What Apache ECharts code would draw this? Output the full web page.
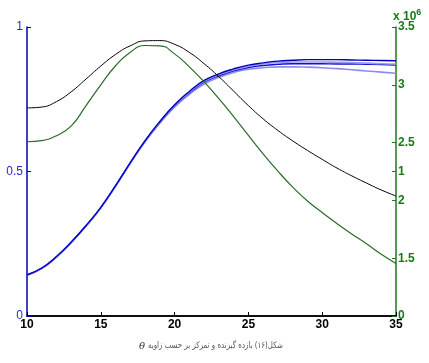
<!DOCTYPE html>
<html><head><meta charset="utf-8">
<script src="https://cdn.jsdelivr.net/npm/echarts@6/dist/echarts.min.js"></script>
<style>html,body{margin:0;padding:0;background:#fff}#c{width:429px;height:363px}</style>
</head><body><div id="c"></div>
<script>
const xVals = [10,11,12,13,14,15,16,17,18,19,20,21,22,23,24,25,26,27,28,29,30,31,32,33,34,35];
const blackVals = [0.72,0.723,0.742,0.776,0.82,0.865,0.905,0.935,0.952,0.953,0.94,0.912,0.873,0.828,0.778,0.728,0.682,0.642,0.606,0.573,0.542,0.512,0.485,0.46,0.436,0.415];
const greenVals = [0.603,0.607,0.624,0.658,0.728,0.80,0.866,0.913,0.936,0.935,0.907,0.862,0.81,0.752,0.69,0.625,0.561,0.501,0.446,0.398,0.358,0.32,0.284,0.25,0.214,0.182];
const blueDark1 = [0.142,0.166,0.206,0.256,0.313,0.376,0.451,0.531,0.607,0.673,0.731,0.777,0.815,0.838,0.855,0.868,0.876,0.882,0.885,0.887,0.887,0.887,0.886,0.885,0.884,0.883];
const blueLight1 = [0.142,0.166,0.205,0.255,0.312,0.375,0.45,0.53,0.606,0.671,0.729,0.774,0.812,0.835,0.852,0.864,0.872,0.877,0.879,0.879,0.879,0.878,0.877,0.875,0.873,0.872];
const blueDark2 = [0.142,0.165,0.205,0.255,0.312,0.375,0.45,0.53,0.605,0.67,0.727,0.772,0.809,0.831,0.848,0.86,0.867,0.871,0.873,0.873,0.873,0.872,0.872,0.871,0.870,0.868];
const blueLight2 = [0.142,0.165,0.204,0.254,0.311,0.374,0.449,0.528,0.603,0.667,0.723,0.767,0.803,0.826,0.843,0.854,0.859,0.862,0.862,0.861,0.859,0.856,0.852,0.848,0.844,0.84];
const xTicks = [10,15,20,25,30,35];
const leftTicks = [0,0.5,1];
const rightTicks = [1.5,2,2.5,3,3.5];
const rightTicks2 = [0,1];
const caption = 'شکل(۱۶) بازده گیرنده و تمرکز بر حسب زاویه';

const pair = arr => xVals.map((x,i)=>[x,arr[i]]);
const green = '#1a7a1a';
function line(data,color,w,z){return {type:'line',data:pair(data),showSymbol:false,smooth:0.5,yAxisIndex:0,lineStyle:{color:color,width:w},z:z,silent:true};}

const chart = echarts.init(document.getElementById('c'),null,{renderer:'canvas'});
chart.setOption({
  animation:false,
  grid:{left:27,top:27,width:369,height:289},
  xAxis:[{type:'value',min:10,max:35,interval:5,position:'bottom',
    axisLine:{lineStyle:{color:'#000',width:1.5}},
    axisTick:{inside:true,length:4,lineStyle:{color:'#000'}},
    axisLabel:{color:'#000',fontWeight:'bold',fontSize:12,fontFamily:'Liberation Sans',margin:3,
      formatter:v=>xTicks.includes(v)?String(v):''},
    splitLine:{show:false}},
    {type:'value',min:10,max:35,position:'top',axisLine:{lineStyle:{color:'#000',width:1.5}},
     axisTick:{show:false},axisLabel:{show:false},splitLine:{show:false}}],
  yAxis:[{type:'value',min:0,max:1,interval:0.5,position:'left',
    axisLine:{show:true,lineStyle:{color:'#0000b0',width:1.5}},
    axisTick:{show:true,inside:true,length:4,lineStyle:{color:'#0000b0'}},
    axisLabel:{color:'#2a2ac8',fontSize:12,fontFamily:'Liberation Sans',margin:4,
      formatter:v=>leftTicks.includes(v)?String(v):''},
    splitLine:{show:false}},
   {type:'value',min:1,max:3.5,interval:0.5,position:'right',
    axisLine:{show:true,lineStyle:{color:green,width:1.5}},
    axisTick:{show:true,inside:true,length:4,lineStyle:{color:green}},
    axisLabel:{color:green,fontWeight:'bold',fontSize:12,fontFamily:'Liberation Sans',margin:2,
      formatter:v=>rightTicks.includes(v)?String(v):''},
    splitLine:{show:false}},
   {type:'value',min:0,max:2,interval:1,position:'right',
    axisLine:{show:false},
    axisTick:{show:true,inside:true,length:4,lineStyle:{color:green}},
    axisLabel:{color:green,fontWeight:'bold',fontSize:12,fontFamily:'Liberation Sans',margin:2,
      formatter:v=>rightTicks2.includes(v)?String(v):''},
    splitLine:{show:false}}],
  graphic:[
    {type:'text',left:393,top:8,style:{text:'x 10{s|6}',fill:green,font:'bold 12px Liberation Sans',
      rich:{s:{fontSize:9,fontWeight:'bold',fill:green,verticalAlign:'top',padding:[0,0,8,0]}}}},
    {type:'text',left:139,top:341,style:{text:'θ',fill:'#333',font:'italic 10px DejaVu Serif'}},
    {type:'text',x:148,y:341,scaleX:0.78,style:{text:caption,fill:'#555',font:'9px DejaVu Sans'}}
  ],
  series:[
    line(blackVals,'#000',1,3),
    line(greenVals,'#2a6a2a',1.2,3),
    line(blueLight2,'#8c8cf0',1.6,2),
    line(blueDark2,'#1010c8',1.4,2),
    line(blueLight1,'#9a9af2',1.6,2),
    line(blueDark1,'#0000c0',1.4,2)
  ]
});
</script></body></html>
